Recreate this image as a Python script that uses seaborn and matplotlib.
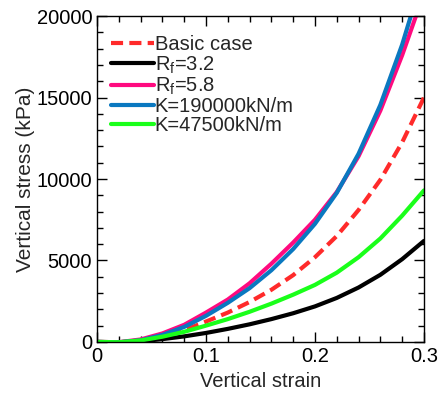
import numpy as np
import pandas as pd
import matplotlib
matplotlib.use("Agg")
import matplotlib.pyplot as plt
from matplotlib.ticker import MultipleLocator, FuncFormatter
import seaborn as sns

strain = [0, 0.02, 0.04, 0.06, 0.08, 0.10, 0.12, 0.14, 0.16, 0.18, 0.20, 0.22, 0.24, 0.26, 0.28, 0.30]
basic = [0, -20, 80, 330, 720, 1250, 1800, 2450, 3200, 4100, 5200, 6500, 8100, 9950, 12250, 15000]
rf32 = [0, -30, 40, 170, 340, 550, 800, 1080, 1400, 1760, 2180, 2700, 3340, 4120, 5080, 6200]
rf58 = [0, -20, 150, 520, 1050, 1800, 2600, 3600, 4800, 6100, 7500, 9200, 11400, 14200, 17600, 21400]
k190 = [0, -20, 100, 430, 920, 1600, 2400, 3300, 4400, 5700, 7250, 9150, 11550, 14550, 18250, 22650]
k475 = [0, -20, 90, 320, 620, 1000, 1400, 1850, 2350, 2900, 3500, 4250, 5200, 6350, 7750, 9300]

labels = ["Basic case", "R$_\\mathregular{f}$=3.2", "R$_\\mathregular{f}$=5.8",
          "K=190000kN/m", "K=47500kN/m"]
series = [basic, rf32, rf58, k190, k475]
colors = ["#ff2a2a", "#000000", "#ff0a7f", "#0a78c0", "#1aff1a"]

df = pd.concat([pd.DataFrame({"strain": strain, "stress": s, "case": lab})
                for s, lab in zip(series, labels)], ignore_index=True)

sns.set_style("white")
plt.rcParams['font.family'] = ['Liberation Sans', 'DejaVu Sans']
plt.rcParams['mathtext.fontset'] = 'custom'
plt.rcParams['mathtext.rm'] = 'Liberation Sans'

FS = 14.5
fig = plt.figure(figsize=(4.43, 3.93), dpi=100)
ax = fig.add_axes([0.219, 0.130, 0.738, 0.829])

sns.lineplot(data=df, x="strain", y="stress", hue="case", style="case",
             hue_order=labels, style_order=labels,
             palette=dict(zip(labels, colors)),
             dashes={labels[0]: (2.9, 1.5), labels[1]: "", labels[2]: "",
                     labels[3]: "", labels[4]: ""},
             linewidth=3.0, ax=ax, sort=False)

ax.set_xlim(0, 0.3)
ax.set_ylim(0, 20000)
ax.xaxis.set_major_locator(MultipleLocator(0.1))
ax.xaxis.set_minor_locator(MultipleLocator(0.02))
ax.yaxis.set_major_locator(MultipleLocator(5000))
ax.yaxis.set_minor_locator(MultipleLocator(1000))
ax.xaxis.set_major_formatter(FuncFormatter(lambda v, p: "0" if abs(v) < 1e-9 else f"{v:.1f}"))
ax.yaxis.set_major_formatter(FuncFormatter(lambda v, p: f"{int(round(v))}"))
ax.tick_params(which="both", direction="in", top=True, right=True, bottom=True, left=True,
               labelsize=FS, colors="black")
ax.tick_params(axis="x", which="major", pad=3.5)
ax.tick_params(axis="y", which="major", pad=3.5)
ax.tick_params(which="major", length=7, width=1)
ax.tick_params(which="minor", length=4, width=1)
for sp in ax.spines.values():
    sp.set_color("black")
    sp.set_linewidth(1)

ax.set_xlabel("Vertical strain", fontsize=FS)
ax.set_ylabel("Vertical stress (kPa)", fontsize=15)
ax.xaxis.set_label_coords(0.5, -0.092)
ax.yaxis.set_label_coords(-0.19, 0.5)

leg = ax.legend(loc="upper left", frameon=False, fontsize=FS, handlelength=2.1,
                handletextpad=0.05, labelspacing=0.0, borderaxespad=0.3,
                bbox_to_anchor=(0.001, 0.984))
for line in leg.get_lines():
    line.set_linewidth(3.0)

fig.savefig("out.png", dpi=100)
